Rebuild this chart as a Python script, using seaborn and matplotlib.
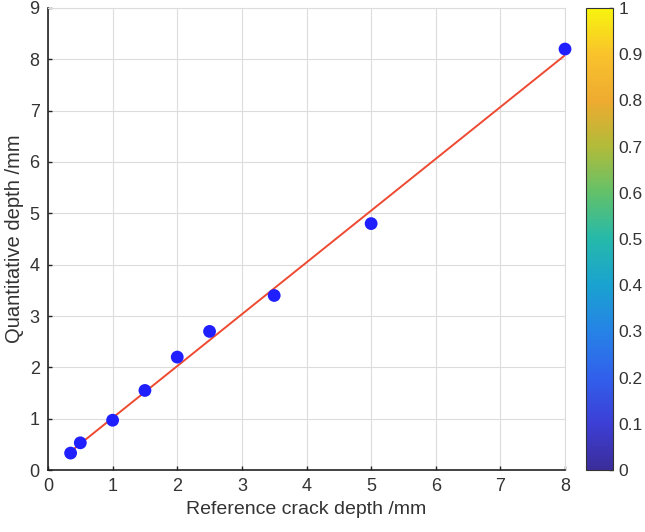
import numpy as np
import pandas as pd
import seaborn as sns
import matplotlib.pyplot as plt
from matplotlib.colors import LinearSegmentedColormap
import matplotlib as mpl

# Measured points (reference vs. quantified crack depth, mm)
ref_depth = [0.35, 0.5, 1.0, 1.5, 2.0, 2.5, 3.5, 5.0, 8.0]
quant_depth = [0.33, 0.53, 0.97, 1.55, 2.2, 2.7, 3.4, 4.8, 8.2]

# Fitted line end points
fit_x = [0.35, 8.0]
fit_y = [0.36, 8.08]

x_ticks = [0, 1, 2, 3, 4, 5, 6, 7, 8]
y_ticks = [0, 1, 2, 3, 4, 5, 6, 7, 8, 9]
cbar_ticks = [0, 0.1, 0.2, 0.3, 0.4, 0.5, 0.6, 0.7, 0.8, 0.9, 1]

sns.set_style('whitegrid')
plt.rcParams['font.family'] = ['Liberation Sans', 'DejaVu Sans']

# MATLAB-like parula colormap (colours sampled by eye)
parula = LinearSegmentedColormap.from_list('parula', [
    '#3b2d9a', '#3c3fd6', '#3160ec', '#2683e6', '#1aa2d0', '#25b9ab',
    '#62c16a', '#b1bb3a', '#eeab30', '#f9c22c', '#f8f40e'])

df = pd.DataFrame({'ref': ref_depth, 'quant': quant_depth})
fit = pd.DataFrame({'x': fit_x, 'y': fit_y})

fig = plt.figure(figsize=(6.45, 5.32), dpi=100)
ax = fig.add_axes([0.0744, 0.1165, 0.8016, 0.8685])

sns.lineplot(data=fit, x='x', y='y', color='#ee4a32', lw=1.4, ax=ax, zorder=2)
sns.scatterplot(data=df, x='ref', y='quant', color='#1f1fff', s=85,
                edgecolor='none', ax=ax, zorder=3, clip_on=False)

ax.set_xlim(0, 8)
ax.set_ylim(0, 9)
ax.set_xticks(x_ticks)
ax.set_yticks(y_ticks)
ax.grid(True, color='#dcdcdc', lw=0.8)
ax.tick_params(labelsize=13, direction='in', length=3, width=1, pad=6,
               colors='#222222', labelcolor='#333333')
ax.tick_params(top=False, right=False, left=True, bottom=True)
ax.set_xlabel('Reference crack depth /mm', fontsize=14, color='#333333')
ax.set_ylabel('Quantitative depth /mm', fontsize=14.5, color='#333333')
for side in ['top', 'right']:
    ax.spines[side].set_color('#dcdcdc')
for side in ['left', 'bottom']:
    ax.spines[side].set_color('#222222')
    ax.spines[side].set_linewidth(1.2)

cax = fig.add_axes([0.9085, 0.1165, 0.0419, 0.8685])
cb = fig.colorbar(mpl.cm.ScalarMappable(norm=mpl.colors.Normalize(0, 1), cmap=parula),
                  cax=cax, ticks=cbar_ticks)
cb.ax.set_yticklabels([f'{t:g}' for t in cbar_ticks])
cb.ax.tick_params(labelsize=12.5, direction='in', length=3, width=1, pad=4,
                  colors='#333333')
cb.outline.set_edgecolor('#333333')

fig.savefig('out.png', dpi=100)
